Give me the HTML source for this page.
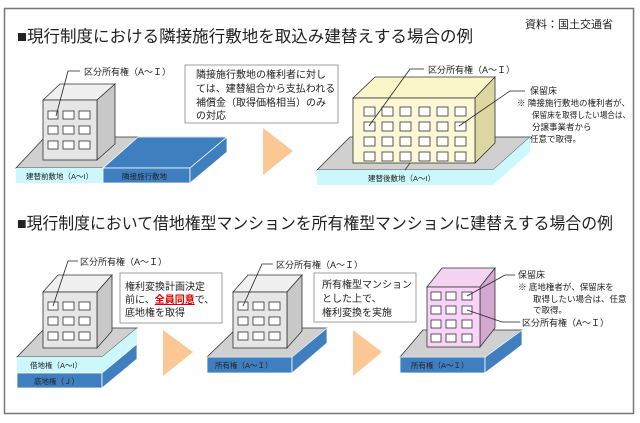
<!DOCTYPE html>
<html><head><meta charset="utf-8"><style>
html,body{margin:0;padding:0;background:#fff;}
svg{display:block;}
text{font-family:"Liberation Sans","Noto Sans CJK JP",sans-serif;fill:#222;}
</style></head><body>
<svg width="640" height="423" viewBox="0 0 640 423" xmlns="http://www.w3.org/2000/svg">
<rect x="4.5" y="8.5" width="629" height="405" fill="#fff" stroke="#777" stroke-width="1.5"/>
<text x="525" y="28" font-size="11">資料：国土交通省</text>
<text x="17" y="42" font-size="16.5" textLength="456" lengthAdjust="spacingAndGlyphs">■現行制度における隣接施行敷地を取込み建替えする場合の例</text>

<!-- Top left base -->
<polygon points="16,168 45,137 227,137 190,168" fill="#d0d0d0" stroke="#333" stroke-width="0.8"/>
<polygon points="103,168 138,137 227,137 190,168" fill="#3f7fc0" stroke="#fff" stroke-width="0.8"/>
<rect x="16" y="168" width="87" height="15" fill="#ccf8fc"/>
<rect x="103" y="168" width="87" height="15" fill="#3f7fc0" stroke="#fff" stroke-width="0.8"/>
<polygon points="190,168 227,137 227,152 190,183" fill="#3f7fc0" stroke="#fff" stroke-width="0.8"/>
<text x="26" y="179" font-size="7.5">建替前敷地（A～I）</text>
<text x="122" y="179" font-size="7.5">隣接施行敷地</text>
<!-- building 1 -->
<polygon points="43,100 60,84 115,84 97,100" fill="#f0f0f0" stroke="#333" stroke-width="0.8"/>
<polygon points="97,100 115,84 115,144 97,160" fill="#c8c8c8" stroke="#333" stroke-width="0.8"/>
<rect x="43" y="100" width="54" height="60" fill="#e6e6e6" stroke="#333" stroke-width="0.8"/>
<g fill="#fff" stroke="#333" stroke-width="0.8">
<rect x="48" y="111" width="10" height="8"/><rect x="63" y="111" width="11" height="8"/><rect x="79" y="111" width="11" height="8"/>
<rect x="48" y="126" width="10" height="8"/><rect x="63" y="126" width="11" height="8"/><rect x="79" y="126" width="11" height="8"/>
<rect x="48" y="141" width="10" height="8"/><rect x="63" y="141" width="11" height="8"/><rect x="79" y="141" width="11" height="8"/>
</g>
<polyline points="56,116 68,71 80,71" fill="none" stroke="#222" stroke-width="0.8"/>
<text x="84" y="75" font-size="9">区分所有権（A～Ｉ）</text>

<rect x="185" y="65" width="153" height="58" fill="#fff" stroke="#888" stroke-width="0.8"/>
<text font-size="10"><tspan x="196" y="78">隣接施行敷地の権利者に対し</tspan><tspan x="196" y="92">ては、建替組合から支払われる</tspan><tspan x="196" y="106">補償金（取得価格相当）のみ</tspan><tspan x="196" y="119">の対応</tspan></text>
<polygon points="263,128 293,151 263,175" fill="#fbc794"/>

<!-- Top right -->
<polygon points="317,170 350,137 530,137 493,170" fill="#d0d0d0" stroke="#333" stroke-width="0.8"/>
<rect x="317" y="170" width="176" height="15" fill="#ccf8fc"/>
<polygon points="493,170 530,137 530,152 493,185" fill="#ccf8fc"/>
<line x1="410" y1="163" x2="405" y2="170" stroke="#333" stroke-width="0.8"/>
<text x="368" y="181" font-size="7.5">建替後敷地（A～I）</text>
<polygon points="353,98 375,77 495,77 475,98" fill="#fbf6c8" stroke="#333" stroke-width="0.8"/>
<polygon points="475,98 495,77 495,143 475,163" fill="#dcd7a0" stroke="#333" stroke-width="0.8"/>
<rect x="353" y="98" width="122" height="65" fill="#fcf8d6" stroke="#333" stroke-width="0.8"/>
<g fill="#fff" stroke="#333" stroke-width="0.8">
<rect x="364" y="107" width="11" height="9"/><rect x="382" y="107" width="11" height="9"/><rect x="400" y="107" width="11" height="9"/><rect x="419" y="107" width="11" height="9"/><rect x="437" y="107" width="11" height="9"/><rect x="455" y="107" width="11" height="9"/>
<rect x="364" y="122" width="11" height="9"/><rect x="382" y="122" width="11" height="9"/><rect x="400" y="122" width="11" height="9"/><rect x="419" y="122" width="11" height="9"/><rect x="437" y="122" width="11" height="9"/><rect x="455" y="122" width="11" height="9"/>
<rect x="364" y="137" width="11" height="9"/><rect x="382" y="137" width="11" height="9"/><rect x="400" y="137" width="11" height="9"/><rect x="419" y="137" width="11" height="9"/><rect x="437" y="137" width="11" height="9"/><rect x="455" y="137" width="11" height="9"/>
<rect x="364" y="152" width="11" height="9"/><rect x="382" y="152" width="11" height="9"/><rect x="400" y="152" width="11" height="9"/><rect x="419" y="152" width="11" height="9"/><rect x="437" y="152" width="11" height="9"/><rect x="455" y="152" width="11" height="9"/>
</g>
<polyline points="369,126 410,69 424,69" fill="none" stroke="#222" stroke-width="0.8"/>
<text x="428" y="73" font-size="9">区分所有権（A～Ｉ）</text>
<polyline points="459,126 510,91 525,91" fill="none" stroke="#222" stroke-width="0.8"/>
<text x="530" y="94" font-size="9">保留床</text>
<text font-size="8.5"><tspan x="517" y="106" textLength="113" lengthAdjust="spacingAndGlyphs">※ 隣接施行敷地の権利者が、</tspan><tspan x="532" y="118" textLength="98" lengthAdjust="spacingAndGlyphs">保留床を取得したい場合は、</tspan><tspan x="532" y="130">分譲事業者から</tspan><tspan x="530" y="142">任意で取得。</tspan></text>

<text x="17" y="229" font-size="16.5" textLength="596" lengthAdjust="spacingAndGlyphs">■現行制度において借地権型マンションを所有権型マンションに建替えする場合の例</text>

<!-- Bottom 1 -->
<polygon points="17,357 45,328 137,328 102,357" fill="#d0d0d0" stroke="#333" stroke-width="0.8"/>
<rect x="17" y="357" width="85" height="16" fill="#ccf8fc"/>
<rect x="17" y="373" width="85" height="15" fill="#3f7fc0" stroke="#fff" stroke-width="0.8"/>
<polygon points="102,357 137,328 137,344 102,373" fill="#ccf8fc"/>
<polygon points="102,373 137,344 137,359 102,388" fill="#3f7fc0" stroke="#fff" stroke-width="0.8"/>
<text x="30" y="368" font-size="7.5">借地権（A～I）</text>
<text x="34" y="384" font-size="7.5">底地権（Ｊ）</text>
<polygon points="43,292 58,275 112,275 97,292" fill="#f0f0f0" stroke="#333" stroke-width="0.8"/>
<polygon points="97,292 112,275 112,331 97,348" fill="#c8c8c8" stroke="#333" stroke-width="0.8"/>
<rect x="43" y="292" width="54" height="56" fill="#e6e6e6" stroke="#333" stroke-width="0.8"/>
<g fill="#fff" stroke="#333" stroke-width="0.8">
<rect x="48" y="302" width="10" height="8"/><rect x="63" y="302" width="11" height="8"/><rect x="79" y="302" width="11" height="8"/>
<rect x="48" y="317" width="10" height="8"/><rect x="63" y="317" width="11" height="8"/><rect x="79" y="317" width="11" height="8"/>
<rect x="48" y="332" width="10" height="8"/><rect x="63" y="332" width="11" height="8"/><rect x="79" y="332" width="11" height="8"/>
</g>
<polyline points="53,306 68,261 78,261" fill="none" stroke="#222" stroke-width="0.8"/>
<text x="80" y="265" font-size="9">区分所有権（A～Ｉ）</text>
<rect x="120" y="273" width="102" height="50" fill="#fff" stroke="#888" stroke-width="0.8"/>
<text font-size="10"><tspan x="125" y="290">権利変換計画決定</tspan><tspan x="125" y="303">前に、<tspan fill="#e00000" font-weight="bold" text-decoration="underline">全員同意</tspan>で、</tspan><tspan x="125" y="316">底地権を取得</tspan></text>
<polygon points="163,330 193,352 163,376" fill="#fbc794"/>

<!-- Bottom 2 -->
<polygon points="207,357 237,328 327,328 292,357" fill="#d0d0d0" stroke="#333" stroke-width="0.8"/>
<rect x="207" y="357" width="85" height="16" fill="#3f7fc0" stroke="#fff" stroke-width="0.8"/>
<polygon points="292,357 327,328 327,343 292,373" fill="#3f7fc0" stroke="#fff" stroke-width="0.8"/>
<text x="215" y="368" font-size="7.5" fill="#111">所有権（A～Ｉ）</text>
<polygon points="233,292 248,275 302,275 287,292" fill="#f0f0f0" stroke="#333" stroke-width="0.8"/>
<polygon points="287,292 302,275 302,331 287,348" fill="#c8c8c8" stroke="#333" stroke-width="0.8"/>
<rect x="233" y="292" width="54" height="56" fill="#e6e6e6" stroke="#333" stroke-width="0.8"/>
<g fill="#fff" stroke="#333" stroke-width="0.8">
<rect x="238" y="302" width="10" height="8"/><rect x="253" y="302" width="11" height="8"/><rect x="269" y="302" width="11" height="8"/>
<rect x="238" y="317" width="10" height="8"/><rect x="253" y="317" width="11" height="8"/><rect x="269" y="317" width="11" height="8"/>
<rect x="238" y="332" width="10" height="8"/><rect x="253" y="332" width="11" height="8"/><rect x="269" y="332" width="11" height="8"/>
</g>
<polyline points="243,306 262,264 273,264" fill="none" stroke="#222" stroke-width="0.8"/>
<text x="276" y="268" font-size="9">区分所有権（A～Ｉ）</text>
<rect x="314" y="273" width="102" height="49" fill="#fff" stroke="#888" stroke-width="0.8"/>
<text font-size="10"><tspan x="322" y="288">所有権型マンション</tspan><tspan x="322" y="302">とした上で、</tspan><tspan x="322" y="316">権利変換を実施</tspan></text>
<polygon points="353,330 382,352 353,376" fill="#fbc794"/>

<!-- Bottom 3 -->
<polygon points="400,357 423,330 522,330 485,357" fill="#d0d0d0" stroke="#333" stroke-width="0.8"/>
<rect x="400" y="357" width="85" height="16" fill="#3f7fc0" stroke="#fff" stroke-width="0.8"/>
<polygon points="485,357 522,330 522,345 485,373" fill="#3f7fc0" stroke="#fff" stroke-width="0.8"/>
<text x="411" y="368" font-size="7.5" fill="#111">所有権（A～Ｉ）</text>
<polygon points="427,287 442,268 495,268 480,287" fill="#f4d4f0" stroke="#333" stroke-width="0.8"/>
<polygon points="480,287 495,268 495,328 480,347" fill="#d4a8d0" stroke="#333" stroke-width="0.8"/>
<rect x="427" y="287" width="53" height="60" fill="#fad4f8" stroke="#333" stroke-width="0.8"/>
<g fill="#fff" stroke="#333" stroke-width="0.8">
<rect x="431" y="292" width="10" height="8"/><rect x="446" y="292" width="10" height="8"/><rect x="462" y="292" width="10" height="8"/>
<rect x="431" y="306" width="10" height="8"/><rect x="446" y="306" width="10" height="8"/><rect x="462" y="306" width="10" height="8"/>
<rect x="431" y="320" width="10" height="8"/><rect x="446" y="320" width="10" height="8"/><rect x="462" y="320" width="10" height="8"/>
<rect x="431" y="334" width="10" height="8"/><rect x="446" y="334" width="10" height="8"/><rect x="462" y="334" width="10" height="8"/>
</g>
<polyline points="467,296 505,275 515,275" fill="none" stroke="#222" stroke-width="0.8"/>
<text x="518" y="278" font-size="9">保留床</text>
<text font-size="8.5"><tspan x="518" y="290">※ 底地権者が、保留床を</tspan><tspan x="533" y="302">取得したい場合は、任意</tspan><tspan x="533" y="313">で取得。</tspan></text>
<polyline points="467,310 502,322 520,322" fill="none" stroke="#222" stroke-width="0.8"/>
<text x="522" y="326" font-size="9">区分所有権（A～Ｉ）</text>
</svg>
</body></html>
